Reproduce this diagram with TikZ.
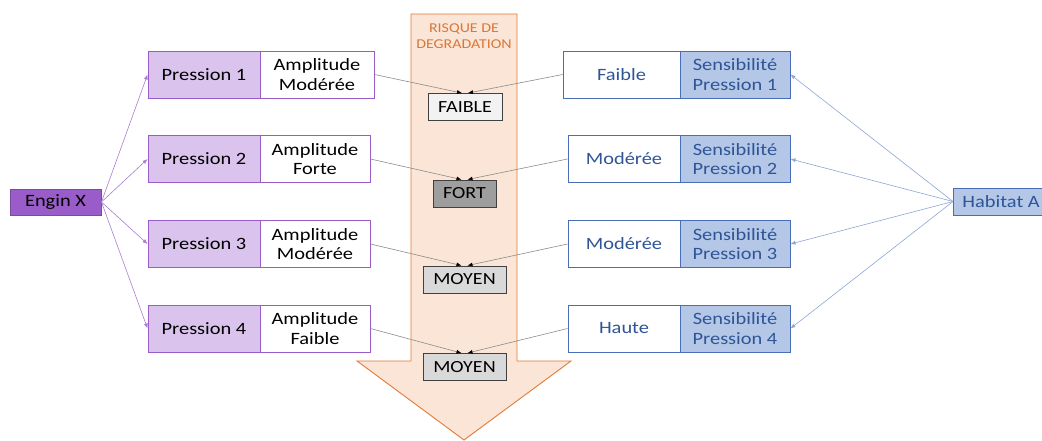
\documentclass[tikz,border=0pt]{standalone}
\usepackage{fontspec}
\setmainfont{Carlito}[FakeStretch=1.18]
\usetikzlibrary{arrows.meta,calc}
\definecolor{pdark}{HTML}{9A5CC8}
\definecolor{plight}{HTML}{DAC4EE}
\definecolor{pline}{HTML}{A67FD0}
\definecolor{bfill}{HTML}{B4C7E7}
\definecolor{bdraw}{HTML}{4A6DB8}
\definecolor{btext}{HTML}{2F5597}
\definecolor{bline}{HTML}{8EA6D6}
\definecolor{ofill}{HTML}{FBE5D6}
\definecolor{odraw}{HTML}{E07B39}
\definecolor{otext}{HTML}{D9773A}
\begin{document}
\begin{tikzpicture}[x=1pt,y=-1pt,
  box/.style={draw, rectangle, inner sep=0pt, minimum height=47pt, align=center,
    font=\fontsize{17.3}{19.5}\selectfont, line width=0.9pt},
  pbox/.style={box, draw=pdark, fill=plight, minimum width=112pt},
  abox/.style={box, draw=pdark, fill=white},
  sbox/.style={box, draw=bdraw, fill=bfill, text=btext, minimum width=110pt},
  lbox/.style={box, draw=bdraw, fill=white, text=btext},
  rbox/.style={draw=black!75, rectangle, inner sep=0pt, minimum height=27pt, line width=0.9pt,
    font=\fontsize{17}{19.5}\selectfont},
  parrow/.style={draw=pline, line width=0.6pt, -{Latex[length=5pt,width=4pt]}},
  barrow/.style={draw=bline, line width=0.6pt, -{Latex[length=5pt,width=4pt]}},
  garrow/.style={draw=black!45, line width=0.6pt, -{Latex[length=5pt,width=4pt,fill=black,color=black]}}
]
\useasboundingbox (0,0) rectangle (1042,441);
\fill[white] (0,0) rectangle (1042,441);
% big orange arrow
\filldraw[fill=ofill, draw=odraw, line width=0.9pt]
  (411,14) -- (517,14) -- (517,361) -- (571,361) -- (464,440) -- (357,361) -- (411,361) -- cycle;
\node[text=otext, font=\fontsize{13.5}{16}\selectfont, align=center] (risk) at (464,36.5) {RISQUE DE\\DEGRADATION};

% left
\node[box, draw=pdark!80!black, fill=pdark, minimum width=91pt, minimum height=26pt] (engin) at (55.5,202) {Engin X};
\node[pbox] (p1) at (204,74.5) {Pression 1};
\node[abox, minimum width=114pt] (a1) at (317,74.5) {Amplitude\\Modérée};
\node[pbox] (p2) at (204,159) {Pression 2};
\node[abox, minimum width=110pt] (a2) at (315,159) {Amplitude\\Forte};
\node[pbox] (p3) at (204,244) {Pression 3};
\node[abox, minimum width=110pt] (a3) at (315,244) {Amplitude\\Modérée};
\node[pbox] (p4) at (204,328.5) {Pression 4};
\node[abox, minimum width=110pt] (a4) at (315,328.5) {Amplitude\\Faible};

% right
\node[lbox, minimum width=117pt] (l1) at (621.5,74.5) {Faible};
\node[sbox] (s1) at (735,74.5) {Sensibilité\\Pression 1};
\node[lbox, minimum width=112pt] (l2) at (624,159) {Modérée};
\node[sbox] (s2) at (735,159) {Sensibilité\\Pression 2};
\node[lbox, minimum width=112pt] (l3) at (624,244) {Modérée};
\node[sbox] (s3) at (735,244) {Sensibilité\\Pression 3};
\node[lbox, minimum width=112pt] (l4) at (624,328.5) {Haute};
\node[sbox] (s4) at (735,328.5) {Sensibilité\\Pression 4};
\node[box, draw=bdraw, fill=bfill, text=btext, anchor=west, minimum height=27pt, inner xsep=9pt] (hab) at (953,201.5) {Habitat A};

% risk boxes
\node[rbox, fill=black!5, minimum width=74pt] (r1) at (465,107) {FAIBLE};
\node[rbox, fill=black!38, minimum width=63pt] (r2) at (464.5,193.5) {FORT};
\node[rbox, fill=black!15, minimum width=83pt] (r3) at (464.5,279.5) {MOYEN};
\node[rbox, fill=black!15, minimum width=83pt] (r4) at (464.5,367) {MOYEN};

% connectors
\foreach \p in {p1,p2,p3,p4} \draw[parrow] (engin.east) -- (\p.west);
\foreach \s in {s1,s2,s3,s4} \draw[barrow] (hab.west) -- (\s.east);
\foreach \a/\l/\r in {a1/l1/r1, a2/l2/r2, a3/l3/r3, a4/l4/r4} {
  \draw[garrow] (\a.east) -- ($(\r.north)+(-3,0)$);
  \draw[garrow] (\l.west) -- ($(\r.north)+(3,0)$);
}
\end{tikzpicture}
\end{document}
